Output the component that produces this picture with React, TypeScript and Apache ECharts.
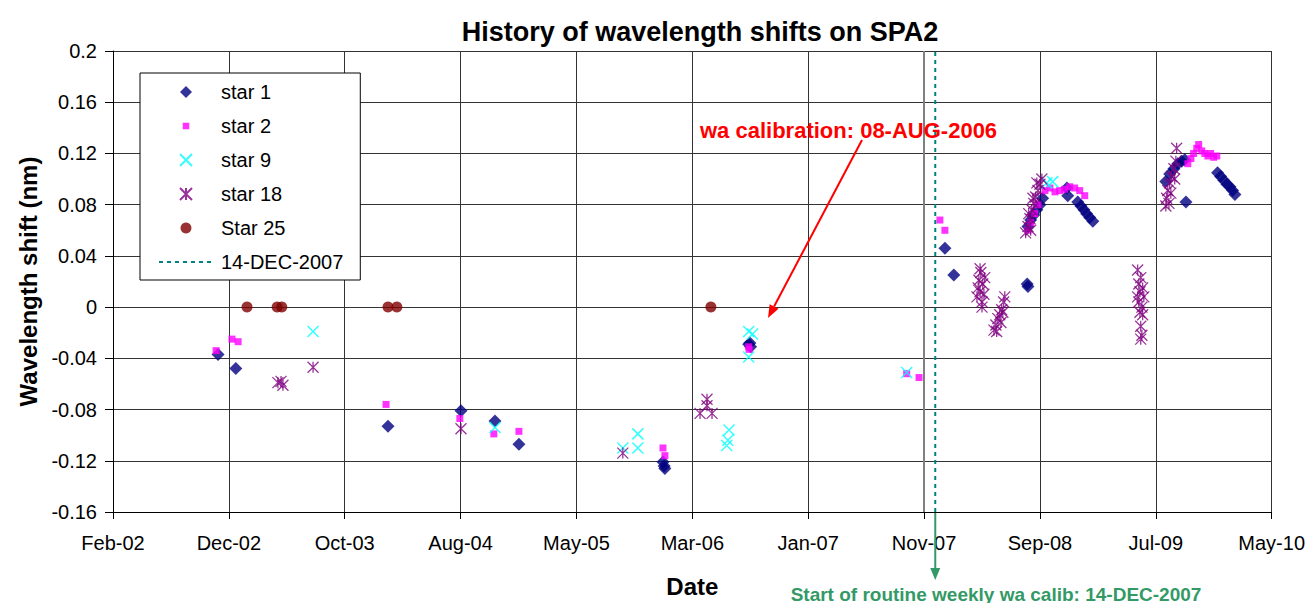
import React, { useEffect, useRef } from "react";
import * as echarts from "echarts";

// ---------- axis definition ----------
const AXIS_START = "2002-02-14"; // first x tick (Feb-02)
const TICK_STEP_DAYS = 300;
const TICK_COUNT = 10;
const Y_MIN = -0.16;
const Y_MAX = 0.2;
const Y_STEP = 0.04;
const MONTHS = ["Jan", "Feb", "Mar", "Apr", "May", "Jun", "Jul", "Aug", "Sep", "Oct", "Nov", "Dec"];

const TITLE = "History of wavelength shifts on SPA2";
const X_NAME = "Date";
const Y_NAME = "Wavelength shift (nm)";
const CAL_LABEL = "wa calibration: 08-AUG-2006";
const ROUTINE_LABEL = "Start of routine weekly wa calib: 14-DEC-2007";
const ROUTINE_DATE = "2007-12-14";
const ROUTINE_NAME = "14-DEC-2007";

// ---------- data ----------
const STAR1: [string, number][] = [
  ["2002-11-13", -0.037], ["2002-12-29", -0.048], ["2004-01-27", -0.093], ["2004-08-03", -0.081],
  ["2004-10-30", -0.089], ["2004-12-31", -0.107], ["2006-01-08", -0.121], ["2006-01-11", -0.124],
  ["2006-01-13", -0.126], ["2006-08-18", -0.029], ["2006-08-23", -0.031], ["2006-08-21", -0.028],
  ["2008-01-08", 0.046], ["2008-01-31", 0.025], ["2008-08-08", 0.018], ["2008-08-10", 0.016],
  ["2008-08-10", 0.063], ["2008-08-17", 0.068], ["2008-08-25", 0.072], ["2008-09-02", 0.076],
  ["2008-09-10", 0.080], ["2008-09-17", 0.085], ["2008-11-21", 0.087], ["2008-11-19", 0.093],
  ["2008-12-17", 0.082], ["2008-12-25", 0.079], ["2009-01-02", 0.076], ["2009-01-09", 0.073],
  ["2009-01-17", 0.070], ["2009-01-25", 0.067],
  ["2009-08-02", 0.098], ["2009-08-12", 0.104], ["2009-08-23", 0.108], ["2009-09-02", 0.112],
  ["2009-09-12", 0.114], ["2009-09-20", 0.115], ["2009-09-23", 0.082],
  ["2009-12-14", 0.105], ["2009-12-22", 0.102], ["2009-12-30", 0.099], ["2010-01-07", 0.096],
  ["2010-01-15", 0.094], ["2010-01-22", 0.091], ["2010-01-28", 0.088],
];

const STAR2: [string, number][] = [
  ["2002-11-08", -0.034], ["2002-12-19", -0.025], ["2003-01-04", -0.027], ["2004-01-22", -0.076],
  ["2004-07-31", -0.087], ["2004-10-27", -0.099], ["2004-12-31", -0.097], ["2006-01-08", -0.110],
  ["2006-01-13", -0.116], ["2006-08-19", -0.033], ["2006-08-18", -0.031], ["2007-10-01", -0.052],
  ["2007-11-02", -0.055], ["2007-12-26", 0.068], ["2008-01-08", 0.060],
  ["2008-08-10", 0.060], ["2008-08-17", 0.066], ["2008-08-27", 0.073], ["2008-09-05", 0.080],
  ["2008-09-23", 0.091], ["2008-10-06", 0.093], ["2008-10-19", 0.090], ["2008-10-31", 0.091],
  ["2008-11-13", 0.092], ["2008-11-26", 0.094], ["2008-12-09", 0.093], ["2008-12-22", 0.091],
  ["2009-01-04", 0.087],
  ["2009-09-28", 0.112], ["2009-10-06", 0.116], ["2009-10-13", 0.120], ["2009-10-21", 0.124],
  ["2009-10-26", 0.127], ["2009-11-03", 0.122], ["2009-11-11", 0.120], ["2009-11-19", 0.118],
  ["2009-11-26", 0.120], ["2009-12-04", 0.117], ["2009-12-12", 0.118],
];

const STAR9: [string, number][] = [
  ["2003-07-17", -0.019], ["2004-10-30", -0.094], ["2005-09-26", -0.110], ["2005-11-04", -0.099],
  ["2005-11-04", -0.110], ["2006-06-22", -0.108], ["2006-06-25", -0.104], ["2006-06-28", -0.096],
  ["2006-08-18", -0.019], ["2006-08-28", -0.021], ["2006-08-18", -0.039], ["2007-10-01", -0.051],
  ["2008-09-28", 0.097], ["2008-10-13", 0.098],
];

const STAR18: [string, number][] = [
  ["2003-04-17", -0.059], ["2003-04-25", -0.058], ["2003-04-30", -0.061], ["2003-07-17", -0.047],
  ["2004-08-03", -0.095], ["2005-09-26", -0.114],
  ["2006-04-14", -0.083], ["2006-05-02", -0.072], ["2006-05-02", -0.077], ["2006-05-15", -0.083],
  ["2008-03-31", 0.008], ["2008-04-03", 0.015], ["2008-04-05", 0.021], ["2008-04-08", 0.012],
  ["2008-04-10", 0.027], ["2008-04-13", 0.004], ["2008-04-15", 0.018], ["2008-04-18", 0.010],
  ["2008-04-20", 0.023], ["2008-04-13", 0.000], ["2008-04-08", 0.030],
  ["2008-05-14", -0.018], ["2008-05-19", -0.014], ["2008-05-21", -0.019], ["2008-05-24", -0.009],
  ["2008-05-29", -0.006], ["2008-06-01", -0.012], ["2008-06-03", -0.002], ["2008-06-06", -0.004],
  ["2008-06-08", 0.004], ["2008-06-11", 0.008],
  ["2008-08-04", 0.058], ["2008-08-10", 0.063], ["2008-08-12", 0.073], ["2008-08-15", 0.069],
  ["2008-08-17", 0.060], ["2008-08-20", 0.076], ["2008-08-23", 0.085], ["2008-08-25", 0.081],
  ["2008-08-30", 0.086], ["2008-09-02", 0.097], ["2008-09-05", 0.091], ["2008-09-10", 0.096],
  ["2008-09-15", 0.100],
  ["2009-05-21", 0.029], ["2009-05-29", 0.023], ["2009-05-24", 0.018], ["2009-06-03", 0.015],
  ["2009-05-27", 0.012], ["2009-06-06", 0.008], ["2009-05-24", 0.004], ["2009-06-01", 0.000],
  ["2009-05-27", -0.004], ["2009-06-03", -0.006], ["2009-05-29", -0.015], ["2009-06-01", -0.022],
  ["2009-05-29", -0.025], ["2009-05-21", 0.008],
  ["2009-08-02", 0.079], ["2009-08-04", 0.085], ["2009-08-07", 0.091], ["2009-08-10", 0.081],
  ["2009-08-12", 0.097], ["2009-08-15", 0.089], ["2009-08-17", 0.102], ["2009-08-23", 0.108],
  ["2009-08-25", 0.100], ["2009-08-28", 0.114], ["2009-08-30", 0.124],
];

const STAR25: [string, number][] = [
  ["2003-01-27", 0], ["2003-04-15", 0], ["2003-04-27", 0], ["2004-01-27", 0], ["2004-02-19", 0],
  ["2006-05-12", 0],
];

// ---------- helpers ----------
const DAY_MS = 86400000;
const START_MS = Date.parse(AXIS_START + "T00:00:00Z");
const toDays = (d: string) => Math.round((Date.parse(d + "T00:00:00Z") - START_MS) / DAY_MS);
const toPoints = (arr: [string, number][]) => arr.map(([d, v]) => [toDays(d), v]);
const fmtDate = (days: number) => {
  const dt = new Date(START_MS + days * DAY_MS);
  return `${MONTHS[dt.getUTCMonth()]}-${String(dt.getUTCFullYear() % 100).padStart(2, "0")}`;
};

const FONT = "'Liberation Sans', Arial, Helvetica, sans-serif";
const X_SYMBOL = "path://M0,0L10,10M10,0L0,10";
const AST_SYMBOL = "path://M0,0L10,10M10,0L0,10M5,0L5,10";
const SQUARE_ICON = "path://M0,0M11,11M2.5,2.5L8.5,2.5L8.5,8.5L2.5,8.5Z";
const DIAMOND_ICON = "path://M5.5,0L11,5.5L5.5,11L0,5.5Z";
const CIRCLE_ICON = "path://M0,0M11,11M5.5,0.5A5,5,0,1,1,5.49,0.5Z";

function arrow(x1: number, y1: number, x2: number, y2: number, color: string, headLen: number, headHalf: number, width: number) {
  const dx = x2 - x1, dy = y2 - y1;
  const len = Math.hypot(dx, dy);
  const ux = dx / len, uy = dy / len;
  const bx = x2 - ux * headLen, by = y2 - uy * headLen;
  const px = -uy * headHalf, py = ux * headHalf;
  return [
    { type: "line", shape: { x1, y1, x2: bx, y2: by }, style: { stroke: color, lineWidth: width }, z: 100 },
    { type: "polygon", shape: { points: [[x2, y2], [bx + px, by + py], [bx - px, by - py]] }, style: { fill: color }, z: 100 },
  ];
}

export default function App() {
  const ref = useRef<HTMLDivElement>(null);
  useEffect(() => {
    if (!ref.current) return;
    const chart = echarts.init(ref.current, undefined, { renderer: "svg" });
    const routineDay = toDays(ROUTINE_DATE);
    const option: any = {
      animation: false,
      backgroundColor: "#ffffff",
      textStyle: { fontFamily: FONT, color: "#000" },
      title: {
        text: TITLE,
        left: 695,
        textAlign: "center",
        top: 13,
        textStyle: { fontFamily: FONT, fontSize: 27, fontWeight: "bold", color: "#000" },
      },
      grid: { left: 113, right: 36, top: 51, bottom: 86, containLabel: false },
      legend: {
        orient: "vertical",
        left: 140,
        top: 73,
        padding: [9, 17, 8, 18],
        itemWidth: 54,
        itemHeight: 12,
        itemGap: 14,
        symbolKeepAspect: true,
        backgroundColor: "#ffffff",
        borderColor: "#000000",
        borderWidth: 1,
        selectedMode: false,
        textStyle: { fontFamily: FONT, fontSize: 20, color: "#000", padding: [0, 0, 0, 3] },
        data: [
          { name: "star 1", icon: DIAMOND_ICON },
          { name: "star 2", icon: SQUARE_ICON },
          { name: "star 9" },
          { name: "star 18" },
          { name: "Star 25", icon: CIRCLE_ICON },
          { name: ROUTINE_NAME, itemStyle: { opacity: 0 } },
        ],
      },
      xAxis: {
        type: "value",
        min: 0,
        max: TICK_STEP_DAYS * TICK_COUNT,
        interval: TICK_STEP_DAYS,
        name: X_NAME,
        nameLocation: "middle",
        nameGap: 62,
        nameTextStyle: { fontFamily: FONT, fontSize: 24, fontWeight: "bold", color: "#000" },
        axisLine: { show: true, onZero: false, lineStyle: { color: "#000", width: 1 } },
        axisTick: { show: true, length: 7, lineStyle: { color: "#000" } },
        axisLabel: { formatter: (v: number) => fmtDate(v), fontSize: 20, color: "#000", margin: 21, fontFamily: FONT },
        splitLine: { show: true, lineStyle: { color: "#333", width: 1 } },
      },
      yAxis: {
        type: "value",
        min: Y_MIN,
        max: Y_MAX,
        interval: Y_STEP,
        name: Y_NAME,
        nameLocation: "middle",
        nameGap: 72,
        nameTextStyle: { fontFamily: FONT, fontSize: 24, fontWeight: "bold", color: "#000" },
        axisLine: { show: true, onZero: false, lineStyle: { color: "#000", width: 1 } },
        axisTick: { show: true, length: 8, lineStyle: { color: "#000" } },
        axisLabel: {
          formatter: (v: number) => String(parseFloat(v.toFixed(2))),
          fontSize: 20,
          color: "#000",
          margin: 16,
          fontFamily: FONT,
        },
        splitLine: { show: true, lineStyle: { color: "#333", width: 1 } },
      },
      series: [
        {
          name: "star 1", type: "scatter", symbol: "diamond", symbolSize: 13,
          itemStyle: { color: "#000080" }, data: toPoints(STAR1),
        },
        {
          name: "star 2", type: "scatter", symbol: "rect", symbolSize: 7,
          itemStyle: { color: "#FF00FF" }, data: toPoints(STAR2),
        },
        {
          name: "star 9", type: "scatter", symbol: X_SYMBOL, symbolSize: 11,
          itemStyle: { color: "#00FFFF", borderColor: "#00FFFF", borderWidth: 1.5 }, data: toPoints(STAR9),
        },
        {
          name: "star 18", type: "scatter", symbol: AST_SYMBOL, symbolSize: 11,
          itemStyle: { color: "#800080", borderColor: "#800080", borderWidth: 1.3 }, data: toPoints(STAR18),
        },
        {
          name: "Star 25", type: "scatter", symbol: "circle", symbolSize: 11,
          itemStyle: { color: "#800000" }, data: toPoints(STAR25),
        },
        {
          name: ROUTINE_NAME, type: "line", symbol: "none",
          lineStyle: { color: "#008080", width: 2, type: [4, 4] },
          itemStyle: { color: "#008080" },
          data: [[routineDay, Y_MIN], [routineDay, Y_MAX]],
          markLine: {
            silent: true, symbol: "none", label: { show: false },
            lineStyle: { color: "#808080", width: 2, type: "solid" },
            data: [{ xAxis: TICK_STEP_DAYS * 7 }],
          },
          z: 3,
        },
      ],
    };
    chart.setOption(option);

    const [rx, ry] = chart.convertToPixel({ xAxisIndex: 0, yAxisIndex: 0 }, [routineDay, Y_MIN]) as number[];
    const graphics: any[] = [
      {
        type: "text", x: 700, y: 130, z: 100,
        style: { text: CAL_LABEL, fill: "#FF0000", font: `bold 22px ${FONT}`, textAlign: "left", textVerticalAlign: "middle" },
      },
      ...arrow(862, 140, 768, 318, "#FF0000", 13, 5, 2),
      ...arrow(rx, ry + 1, rx, 580, "#339966", 12, 5, 2),
      {
        type: "text", x: 996, y: 594, z: 100,
        style: { text: ROUTINE_LABEL, fill: "#339966", font: `bold 19px ${FONT}`, textAlign: "center", textVerticalAlign: "middle" },
      },
    ];
    chart.setOption({ graphic: graphics });
    return () => chart.dispose();
  }, []);
  return <div ref={ref} style={{ position: "fixed", left: 0, top: 0, width: 1308, height: 603 }} />;
}
